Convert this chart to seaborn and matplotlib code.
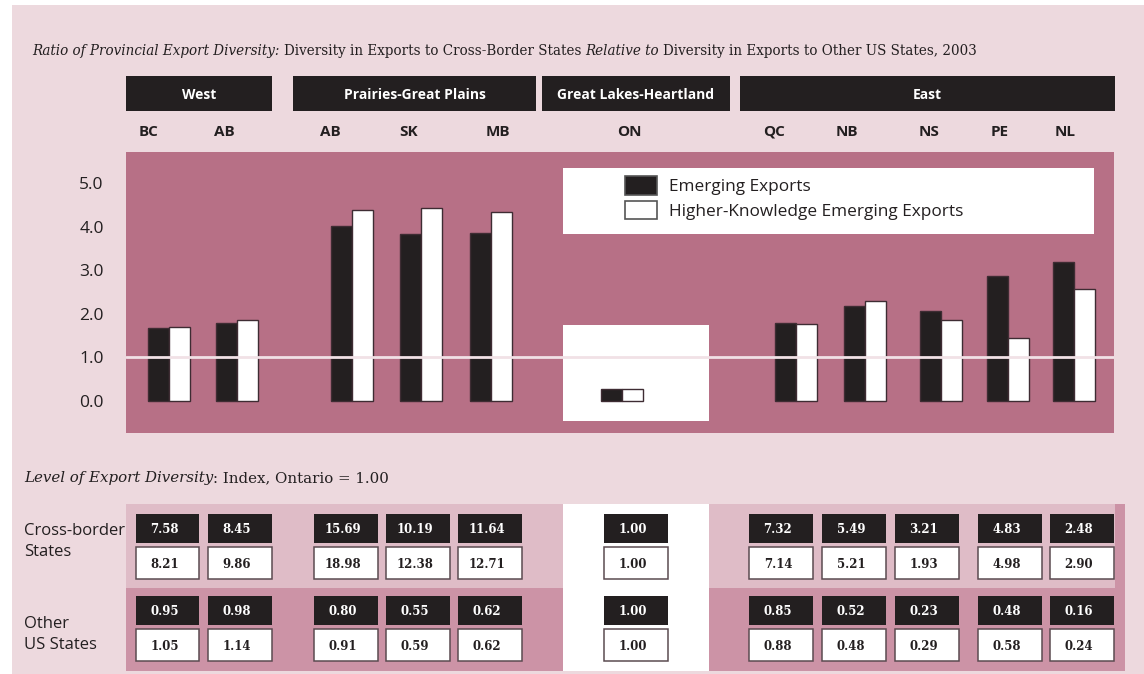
import numpy as np
import pandas as pd
import seaborn as sns
import matplotlib.pyplot as plt
from matplotlib.patches import Rectangle, Patch

# ---- data ----
provinces = ["BC", "AB", "AB", "SK", "MB", "ON", "QC", "NB", "NS", "PE", "NL"]
region_names = ["West", "Prairies-Great Plains", "Great Lakes-Heartland", "East"]
series_names = ["Emerging Exports", "Higher-Knowledge Emerging Exports"]

# ratio cross-border / other US states (bar heights)
ratio_emerging = [1.67, 1.80, 4.01, 3.82, 3.85, 0.28, 1.80, 2.19, 2.07, 2.87, 3.19]
ratio_hk = [1.70, 1.86, 4.39, 4.43, 4.34, 0.28, 1.77, 2.30, 1.86, 1.44, 2.58]

# level of export diversity, Ontario = 1.00
cb_emerging = [7.58, 8.45, 15.69, 10.19, 11.64, 1.00, 7.32, 5.49, 3.21, 4.83, 2.48]
cb_hk = [8.21, 9.86, 18.98, 12.38, 12.71, 1.00, 7.14, 5.21, 1.93, 4.98, 2.90]
us_emerging = [0.95, 0.98, 0.80, 0.55, 0.62, 1.00, 0.85, 0.52, 0.23, 0.48, 0.16]
us_hk = [1.05, 1.14, 0.91, 0.59, 0.62, 1.00, 0.88, 0.48, 0.29, 0.58, 0.24]

yticks = [0, 1, 2, 3, 4, 5]

# ---- layout (pixel positions of the page) ----
bar_x = [169, 237, 352, 421, 491, 622, 796, 865, 941, 1008, 1074]
cell_x = [167.5, 240, 346, 418, 490, 636, 781, 854, 927, 1010, 1082]
label_x = [149, 224, 330, 409, 498, 629, 774, 847, 929, 1000, 1065]
region_spans = [(126, 272), (293, 536), (542, 729.5), (740, 1115)]

# colours
PAGE = "#edd9de"
PLOT = "#b77086"
BAND_TOP = "#dfbcc7"
BAND_BOT = "#cc93a6"
INK = "#231f20"
EDGE = "#3e2c33"

sns.set_style("white")
plt.rcParams["font.family"] = ["Open Sans", "DejaVu Sans"]

fig = plt.figure(figsize=(11.44, 6.74), dpi=100)
fig.patch.set_facecolor("white")

# page layer in pixel coordinates
bg = fig.add_axes([0, 0, 1, 1])
bg.set_xlim(0, 1144)
bg.set_ylim(674, 0)
bg.axis("off")
bg.add_patch(Rectangle((12, 5), 1132, 669, color=PAGE, lw=0))

renderer = fig.canvas.get_renderer()


def rich_line(x, y, parts, size):
    # mixed italic / upright serif text on one line
    space = 0.318 * size * 100 / 72
    for i, (txt, style) in enumerate(parts):
        t = bg.text(x, y, txt, fontsize=size, fontstyle=style, family="DejaVu Serif",
                    color=INK, va="baseline", ha="left")
        x += t.get_window_extent(renderer).width
        if i < len(parts) - 1 and not parts[i + 1][0].startswith(":"):
            x += space
    return x


rich_line(32, 55, [("Ratio of Provincial Export Diversity:", "italic"),
                   ("Diversity in Exports to Cross-Border States", "normal"),
                   ("Relative to", "italic"),
                   ("Diversity in Exports to Other US States, 2003", "normal")], 9.74)
rich_line(24, 482, [("Level of Export Diversity", "italic"),
                    (": Index, Ontario = 1.00", "normal")], 10.8)

# region headers
for name, (x0, x1) in zip(region_names, region_spans):
    bg.add_patch(Rectangle((x0, 76), x1 - x0, 35, color=INK, lw=0))
    bg.text((x0 + x1) / 2, 99, name, color="white", fontweight="bold", fontsize=10,
            ha="center", va="baseline")

# province labels
for lx, p in zip(label_x, provinces):
    bg.text(lx, 136, p, color=INK, fontweight="bold", fontsize=11, ha="center", va="baseline")

# ---- bar chart ----
ax = fig.add_axes([126 / 1144, 1 - 432.7 / 674, 988 / 1144, 281 / 674])
ax.set_facecolor(PLOT)

# white box behind Ontario and legend box
ax.add_patch(Rectangle((563, 325), 145.5, 96, color="white", lw=0, zorder=0.5,
                       transform=bg.transData))
ax.add_patch(Rectangle((563, 168), 530.5, 66, color="white", lw=0, zorder=0.5,
                       transform=bg.transData))

df = pd.DataFrame({
    "x": bar_x * 2,
    "ratio": ratio_emerging + ratio_hk,
    "series": [series_names[0]] * len(bar_x) + [series_names[1]] * len(bar_x),
})
sns.barplot(data=df, x="x", y="ratio", hue="series", native_scale=True,
            palette=[INK, "white"], saturation=1, edgecolor=EDGE, linewidth=1.0,
            width=42 / 66, errorbar=None, legend=False, ax=ax)

ax.axhline(1.0, color="#f1e1e6", lw=2, zorder=3)

ax.set_xlim(126, 1114)
ax.set_ylim(-0.727, 5.718)
ax.set_xticks([])
ax.set_yticks(yticks)
ax.set_yticklabels([f"{v:.1f}" for v in yticks])
ax.tick_params(axis="y", length=0, pad=16, labelsize=12.5, colors=INK)
ax.set_xlabel("")
ax.set_ylabel("")
for s in ax.spines.values():
    s.set_visible(False)

fs = 12.4
fpx = fs * 100 / 72
handles = [Patch(facecolor=INK, edgecolor="#555555", linewidth=1.2, label=series_names[0]),
           Patch(facecolor="white", edgecolor="#555555", linewidth=1.2, label=series_names[1])]
ax.legend(handles=handles, loc="upper left", bbox_to_anchor=(624.6, 176),
          bbox_transform=bg.transData, frameon=False, borderpad=0, borderaxespad=0,
          fontsize=fs, handlelength=32 / fpx, handleheight=1.28,
          handletextpad=0.7, labelspacing=0.32, labelcolor=INK)

# ---- table of levels ----
bg.add_patch(Rectangle((126, 503.5), 999, 167.2, color=BAND_BOT, lw=0))
bg.add_patch(Rectangle((126, 503.5), 989, 84, color=BAND_TOP, lw=0))
bg.add_patch(Rectangle((563, 503.7), 145.5, 167, color="white", lw=0))

bg.text(24, 535, "Cross-border", color=INK, fontsize=12, va="baseline")
bg.text(24, 556, "States", color=INK, fontsize=12, va="baseline")
bg.text(24, 628, "Other", color=INK, fontsize=12, va="baseline")
bg.text(24, 649, "US States", color=INK, fontsize=12, va="baseline")

for emer, hk, top in [(cb_emerging, cb_hk, 514), (us_emerging, us_hk, 596)]:
    for cx, e, h in zip(cell_x, emer, hk):
        bg.add_patch(Rectangle((cx - 31.7, top), 63.3, 29.3, color=INK, lw=0))
        bg.add_patch(Rectangle((cx - 31.7, top + 33), 63.5, 32, facecolor="white",
                               edgecolor="#5b4b51", lw=1.1))
        bg.text(cx - 3, top + 19.3, f"{e:.2f}", color="white", fontsize=8.5,
                fontweight="bold", family="DejaVu Serif", ha="center", va="baseline")
        bg.text(cx - 3, top + 53.6, f"{h:.2f}", color=INK, fontsize=8.5,
                fontweight="bold", family="DejaVu Serif", ha="center", va="baseline")

fig.savefig("out.png", dpi=100)
